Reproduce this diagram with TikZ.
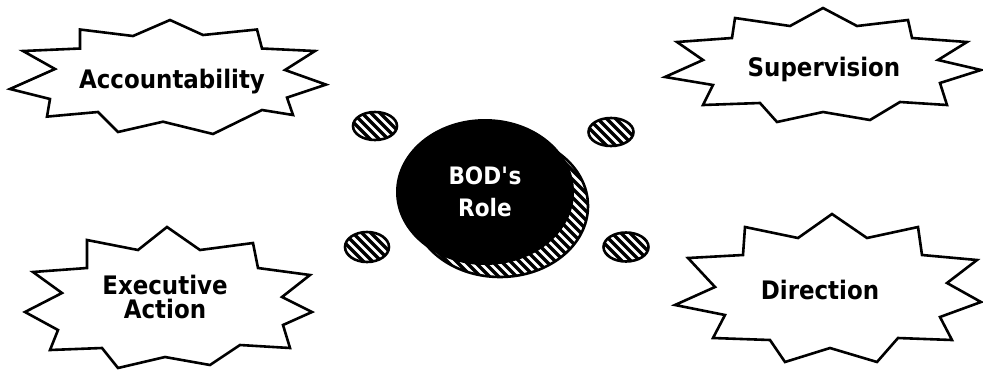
\documentclass[tikz,border=0pt]{standalone}
\usepackage{fontspec}
\setmainfont{DejaVu Sans}[FakeStretch=0.9]
\usetikzlibrary{shapes.geometric}
\begin{document}
\begin{tikzpicture}[x=1pt,y=-1pt,
  burst/.style={draw=black, line width=2.6pt, fill=white, line join=miter},
  lbl/.style={font=\bfseries\fontsize{25.5}{24}\selectfont, align=center, inner sep=0pt, text=black},
  hatchdot/.style={ellipse, draw=black, line width=2.6pt, fill=white, inner sep=0pt,
    path picture={\foreach \k in {-40,...,40}
      \draw[line width=3.3pt] ([shift={(\k*9-150,-150)}]path picture bounding box.center) -- ++(300,300);}},
]
\useasboundingbox (0,0) rectangle (983,373);

% Accountability
\draw[burst] (170,20) -- (203,35) -- (257,29.5) -- (262,48.5) -- (315,51) -- (285,70) -- (326,84.6) -- (287,97.6) -- (293,115) -- (262,110) -- (213,134) -- (163,121.7) -- (118,132) -- (98,112) -- (47,116.6) -- (50,99) -- (10,89) -- (55,69) -- (23,51) -- (80,48.5) -- (80,29.5) -- (133,36) -- cycle;
\node[lbl, anchor=base] (acc) at (172,88) {Accountability};

% Supervision
\draw[burst] (823,8) -- (857,26) -- (908,20) -- (912,38) -- (967,42) -- (938,60) -- (981,70) -- (940,83) -- (947,105) -- (900,102) -- (870,120) -- (823,112) -- (777,122) -- (760,103) -- (703,105) -- (713,85) -- (665,77) -- (703,60) -- (677,42) -- (732,38) -- (735,18) -- (790,26) -- cycle;
\node[lbl, anchor=base] (sup) at (824,76) {Supervision};

% Executive Action
\draw[burst] (167,227) -- (200,250) -- (253,243) -- (258,268) -- (310,275) -- (282,297) -- (312,312) -- (283,325) -- (290,348) -- (240,345) -- (210,365) -- (165,357) -- (118,368) -- (102,348) -- (50,350) -- (58,330) -- (25,312) -- (62,293) -- (33,272) -- (87,268) -- (87,240) -- (138,250) -- cycle;
\node[lbl] (exe) at (165,297) {Executive\\Action};

% Direction
\draw[burst] (832,214) -- (867,238) -- (918,227) -- (922,255) -- (977,260) -- (947,283) -- (981,302) -- (940,317) -- (952,340) -- (898,338) -- (877,362) -- (830,348) -- (785,362) -- (770,340) -- (713,338) -- (725,315) -- (675,305) -- (715,287) -- (688,258) -- (743,255) -- (745,227) -- (798,238) -- cycle;
\node[lbl, anchor=base] (dir) at (820,299) {Direction};

% small hatched ellipses
\node[hatchdot, minimum width=44pt, minimum height=28pt] (d1) at (375,126) {};
\node[hatchdot, minimum width=45pt, minimum height=28pt] (d2) at (611,132) {};
\node[hatchdot, minimum width=44pt, minimum height=30pt] (d3) at (367,247) {};
\node[hatchdot, minimum width=45pt, minimum height=29pt] (d4) at (626,247) {};

% central role
\node[hatchdot, minimum width=176pt, minimum height=142pt] (shadow) at (500,206) {};
\node[ellipse, fill=black, inner sep=0pt, minimum width=178pt, minimum height=146pt,
  text=white, align=center, font=\bfseries\fontsize{24}{31.5}\selectfont] (bod) at (485,192) {BOD\textquotesingle s\\Role};
\end{tikzpicture}
\end{document}
